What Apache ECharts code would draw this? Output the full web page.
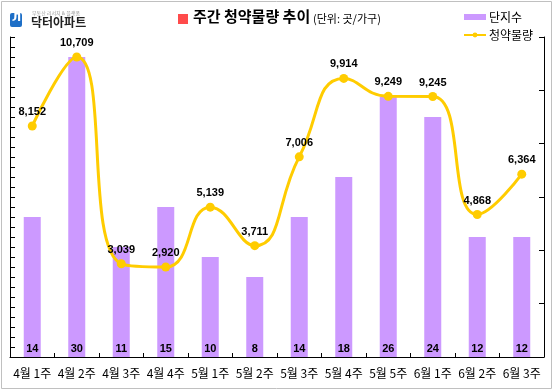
<!DOCTYPE html>
<html>
<head>
<meta charset="utf-8">
<script src="https://cdn.jsdelivr.net/npm/echarts@6/dist/echarts.min.js"></script>
<style>
html,body{margin:0;padding:0;background:#fff;}
#c{width:554px;height:392px;}
</style>
</head>
<body>
<div id="c"></div>
<script>
var categories = ['4월 1주','4월 2주','4월 3주','4월 4주','5월 1주','5월 2주','5월 3주','5월 4주','5월 5주','6월 1주','6월 2주','6월 3주'];
var complexCount = [14, 30, 11, 15, 10, 8, 14, 18, 26, 24, 12, 12];
var supplyVolume = [8152, 10709, 3039, 2920, 5139, 3711, 7006, 9914, 9249, 9245, 4868, 6364];

var KFONT = '"Noto Sans CJK KR", "Noto Sans", sans-serif';
function fmt(v){ return String(v).replace(/\B(?=(\d{3})+(?!\d))/g, ','); }

var chart = echarts.init(document.getElementById('c'), null, {renderer:'canvas'});
chart.setOption({
  animation: false,
  backgroundColor: '#fff',
  grid: {left: 10, right: 10, top: 37, bottom: 35, containLabel: false},
  legend: {
    orient: 'vertical',
    left: 458, top: 6,
    itemWidth: 22, itemHeight: 6, itemGap: 6,
    textStyle: {fontFamily: KFONT, fontSize: 12, color: '#000', padding: [0,0,0,-2]},
    data: [
      {name: '단지수', icon: 'rect'},
      {name: '청약물량'}
    ]
  },
  xAxis: {
    type: 'category',
    data: categories,
    boundaryGap: true,
    axisLine: {show: true, lineStyle: {color: '#000', width: 1}},
    axisTick: {show: true, inside: true, length: 4, lineStyle: {color: '#000'}},
    axisLabel: {color: '#000', fontFamily: KFONT, fontSize: 12, margin: 10, interval: 0}
  },
  yAxis: [
    {
      type: 'value', position: 'left', min: 0, max: 32, interval: 1,
      axisLine: {show: true, lineStyle: {color: '#000'}},
      axisTick: {show: true, inside: true, length: 5, lineStyle: {color: '#000'}},
      axisLabel: {show: false},
      splitLine: {show: false}
    },
    {
      type: 'value', position: 'right', min: -418, max: 11451,
      show: false,
      splitLine: {show: false}
    },
    {
      type: 'value', position: 'right', min: 0, max: 6, interval: 1,
      axisLine: {show: true, lineStyle: {color: '#000'}},
      axisTick: {show: true, inside: true, length: 5, lineStyle: {color: '#000'}},
      axisLabel: {show: false},
      splitLine: {show: false}
    }
  ],
  series: [
    {
      name: '단지수',
      type: 'bar',
      yAxisIndex: 0,
      data: complexCount,
      barWidth: 17,
      itemStyle: {color: '#CC99FF'},
      label: {
        show: true, position: 'insideBottom', distance: 3,
        color: '#000', fontWeight: 'bold', fontSize: 11,
        fontFamily: '"Liberation Sans", Arial, sans-serif'
      }
    },
    {
      name: '청약물량',
      type: 'line',
      yAxisIndex: 1,
      data: supplyVolume,
      smooth: 0.5,
      symbol: 'circle',
      symbolSize: 9,
      lineStyle: {color: '#FFCC00', width: 3},
      itemStyle: {color: '#FFCC00'},
      label: {
        show: true, position: 'top', distance: 4,
        color: '#000', fontWeight: 'bold', fontSize: 11,
        fontFamily: '"Liberation Sans", Arial, sans-serif',
        formatter: function(p){ return fmt(p.value); }
      },
      z: 5
    }
  ],
  graphic: [
    {type: 'rect', shape: {x: 1.5, y: 1.5, width: 550, height: 387}, style: {fill: 'none', stroke: '#c0c0c0', lineWidth: 1}, silent: true, z: -1},
    {type: 'rect', shape: {x: 10, y: 13, width: 12, height: 14, r: 2}, style: {fill: '#1e6fc7'}},
    {type: 'text', left: 12, top: 13, style: {text: 'Л', fill: '#fff', font: 'bold 11px "DejaVu Sans"'}},
    {type: 'text', left: 32, top: 11, style: {text: '부동산 리서치 & 플랫폼', fill: '#999', font: '5px ' + KFONT}},
    {type: 'text', left: 31, top: 16, style: {text: '닥터아파트', fill: '#222', font: 'bold 12px ' + KFONT}},
    {type: 'rect', shape: {x: 178, y: 14, width: 10, height: 10}, style: {fill: '#FF4B4B'}},
    {type: 'text', left: 193, top: 9, style: {text: '주간 청약물량 추이', fill: '#000', font: 'bold 15px ' + KFONT}},
    {type: 'text', left: 313, top: 13, style: {text: '(단위: 곳/가구)', fill: '#000', font: '11px ' + KFONT}}
  ]
});
</script>
</body>
</html>
